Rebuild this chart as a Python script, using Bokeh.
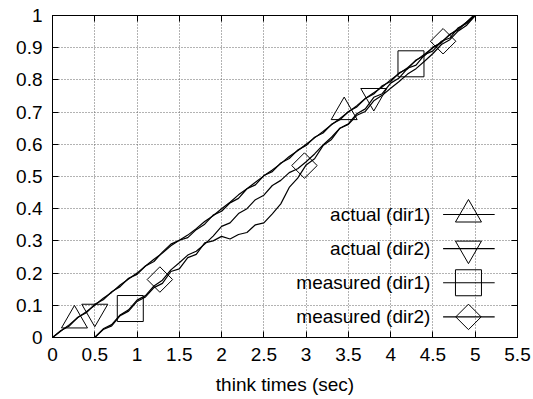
import math
from bokeh.plotting import figure
from bokeh.models import FixedTicker, NumeralTickFormatter, LinearAxis, Label
from bokeh.embed import file_html
from bokeh.resources import INLINE

# ---- data ----
x_ticks = [0, 0.5, 1, 1.5, 2, 2.5, 3, 3.5, 4, 4.5, 5, 5.5]
y_ticks = [0, 0.1, 0.2, 0.3, 0.4, 0.5, 0.6, 0.7, 0.8, 0.9, 1.0]

series_names = ["actual (dir1)", "actual (dir2)", "measured (dir1)", "measured (dir2)"]
series_markers = ["triangle", "inverted_triangle", "square", "diamond"]

actual_dir1_x = [0, 0.1, 0.2, 0.3, 0.4, 0.5, 0.6, 0.7, 0.8, 0.9, 1.0, 1.1, 1.2, 1.3, 1.4,
                 1.5, 1.6, 1.7, 1.8, 1.9, 2.0, 2.1, 2.2, 2.3, 2.4, 2.5, 2.6, 2.7, 2.8, 2.9,
                 3.0, 3.1, 3.2, 3.3, 3.4, 3.5, 3.6, 3.7, 3.8, 3.9, 4.0, 4.1, 4.2, 4.3, 4.4,
                 4.5, 4.6, 4.7, 4.8, 4.9, 5.0]
actual_dir1_y = [0, 0.02, 0.04, 0.062, 0.08, 0.1, 0.122, 0.14, 0.163, 0.182, 0.2, 0.222,
                 0.243, 0.262, 0.285, 0.302, 0.318, 0.338, 0.36, 0.378, 0.4, 0.42, 0.443,
                 0.462, 0.482, 0.502, 0.52, 0.54, 0.562, 0.58, 0.6, 0.62, 0.64, 0.661, 0.68,
                 0.7, 0.72, 0.742, 0.76, 0.778, 0.8, 0.82, 0.838, 0.86, 0.88, 0.9, 0.918,
                 0.94, 0.96, 0.98, 1.0]

actual_dir2_x = [0, 0.1, 0.2, 0.3, 0.4, 0.5, 0.6, 0.7, 0.8, 0.9, 1.0, 1.1, 1.2, 1.3, 1.4,
                 1.5, 1.6, 1.7, 1.8, 1.9, 2.0, 2.1, 2.2, 2.3, 2.4, 2.5, 2.6, 2.7, 2.8, 2.9,
                 3.0, 3.1, 3.2, 3.3, 3.4, 3.5, 3.6, 3.7, 3.8, 3.9, 4.0, 4.1, 4.2, 4.3, 4.4,
                 4.5, 4.6, 4.7, 4.8, 4.9, 4.98]
actual_dir2_y = [0, 0.022, 0.036, 0.063, 0.077, 0.103, 0.117, 0.142, 0.158, 0.184, 0.196,
                 0.222, 0.236, 0.265, 0.29, 0.302, 0.31, 0.335, 0.352, 0.38, 0.392, 0.418,
                 0.432, 0.462, 0.474, 0.503, 0.515, 0.542, 0.556, 0.582, 0.596, 0.622,
                 0.635, 0.662, 0.676, 0.702, 0.716, 0.742, 0.756, 0.782, 0.795, 0.822,
                 0.834, 0.862, 0.875, 0.902, 0.915, 0.942, 0.955, 0.98, 1.0]

measured_dir1_x = [0.5, 0.6, 0.7, 0.8, 0.9, 1.0, 1.1, 1.2, 1.3, 1.4, 1.5, 1.6, 1.7, 1.8,
                   1.9, 2.0, 2.1, 2.2, 2.3, 2.4, 2.5, 2.6, 2.7, 2.8, 2.9, 3.0, 3.1, 3.2,
                   3.3, 3.4, 3.5, 3.6, 3.7, 3.8, 3.9, 4.0, 4.1, 4.2, 4.3, 4.4, 4.5, 4.6,
                   4.7, 4.8, 4.9, 5.0]
measured_dir1_y = [0, 0.025, 0.036, 0.068, 0.082, 0.112, 0.126, 0.155, 0.168, 0.205, 0.213,
                   0.248, 0.258, 0.294, 0.3, 0.314, 0.306, 0.32, 0.326, 0.35, 0.356, 0.384,
                   0.415, 0.466, 0.495, 0.536, 0.555, 0.596, 0.615, 0.65, 0.664, 0.695,
                   0.71, 0.746, 0.757, 0.79, 0.806, 0.836, 0.846, 0.878, 0.89, 0.92, 0.93,
                   0.962, 0.975, 1.0]

measured_dir2_x = [0.5, 0.6, 0.7, 0.8, 0.9, 1.0, 1.1, 1.2, 1.3, 1.4, 1.5, 1.6, 1.7, 1.8,
                   1.9, 2.0, 2.1, 2.2, 2.3, 2.4, 2.5, 2.6, 2.7, 2.8, 2.9, 3.0, 3.1, 3.2,
                   3.3, 3.4, 3.5, 3.6, 3.7, 3.8, 3.9, 4.0, 4.1, 4.2, 4.3, 4.4, 4.5, 4.6,
                   4.7, 4.8, 4.9, 5.0]
measured_dir2_y = [0, 0.027, 0.04, 0.07, 0.086, 0.116, 0.13, 0.16, 0.178, 0.21, 0.232,
                   0.256, 0.268, 0.29, 0.315, 0.345, 0.356, 0.385, 0.4, 0.428, 0.442, 0.472,
                   0.488, 0.512, 0.524, 0.546, 0.57, 0.598, 0.622, 0.65, 0.662, 0.69, 0.702,
                   0.735, 0.752, 0.774, 0.795, 0.818, 0.835, 0.858, 0.882, 0.91, 0.925,
                   0.952, 0.97, 1.0]

# marker points drawn on the curves
actual_dir1_mx = [0.26, 3.45]
actual_dir1_my = [0.053, 0.70]
actual_dir2_mx = [0.5, 3.8]
actual_dir2_my = [0.08, 0.75]
measured_dir1_mx = [0.92, 4.24]
measured_dir1_my = [0.09, 0.85]
measured_dir2_mx = [1.27, 2.98, 4.62]
measured_dir2_my = [0.18, 0.534, 0.92]

curves = [
    (actual_dir1_x, actual_dir1_y, actual_dir1_mx, actual_dir1_my),
    (actual_dir2_x, actual_dir2_y, actual_dir2_mx, actual_dir2_my),
    (measured_dir1_x, measured_dir1_y, measured_dir1_mx, measured_dir1_my),
    (measured_dir2_x, measured_dir2_y, measured_dir2_mx, measured_dir2_my),
]

# ---- styles / layout ----
FONT = "Liberation Sans"
FS = "19px"
MARKER_SIZE = {"triangle": 26, "inverted_triangle": 26, "square": 26, "diamond": 18}
MARKER_ANGLE = {"triangle": 0, "inverted_triangle": 0, "square": 0, "diamond": math.pi / 4}
MARKER_SHAPE = {"triangle": "triangle", "inverted_triangle": "inverted_triangle",
                "square": "square", "diamond": "square"}

# key (legend) layout in data units
KEY_TEXT_RIGHT = 4.47
KEY_LINE_X0, KEY_LINE_X1 = 4.62, 5.23
KEY_MARK_X = 4.92
KEY_TOP_Y = 0.382
KEY_STEP_Y = 0.106

p = figure(width=533, height=399, x_range=(0, 5.5), y_range=(0, 1),
           output_backend="svg", toolbar_location=None,
           min_border_left=52, min_border_right=16, min_border_top=15, min_border_bottom=62)
p.background_fill_color = "white"
p.border_fill_color = "white"
p.outline_line_color = "black"
p.outline_line_width = 1
p.outline_line_alpha = 1

xt = FixedTicker(ticks=x_ticks)
yt = FixedTicker(ticks=y_ticks)

for ax in (p.xaxis[0], p.yaxis[0]):
    ax.major_label_text_font = FONT
    ax.major_label_text_font_size = FS
    ax.major_label_text_color = "black"
    ax.axis_line_color = "black"
    ax.major_tick_line_color = "black"
    ax.major_tick_in = 6
    ax.major_tick_out = 0
    ax.minor_tick_line_color = None
    ax.formatter = NumeralTickFormatter(format="0.[0]")

p.xaxis[0].ticker = xt
p.yaxis[0].ticker = yt
p.xaxis[0].major_label_standoff = 10
p.yaxis[0].major_label_standoff = 10
p.xaxis[0].axis_label = "think times (sec)"
p.xaxis[0].axis_label_text_font = FONT
p.xaxis[0].axis_label_text_font_size = FS
p.xaxis[0].axis_label_text_font_style = "normal"
p.xaxis[0].axis_label_text_color = "black"
p.xaxis[0].axis_label_standoff = 10

for side, tk in (("right", yt), ("above", xt)):
    ax = LinearAxis(ticker=tk, axis_line_color="black", major_tick_line_color="black",
                    major_tick_in=6, major_tick_out=0, minor_tick_line_color=None,
                    major_label_text_font_size="0px", major_label_text_color=None,
                    major_label_standoff=0)
    p.add_layout(ax, side)

for g in (p.xgrid[0], p.ygrid[0]):
    g.grid_line_color = "#666666"
    g.grid_line_dash = "1 2"
    g.grid_line_width = 1
p.xgrid[0].ticker = xt
p.ygrid[0].ticker = yt

for (cx, cy, mx, my), mk in zip(curves, series_markers):
    p.line(cx, cy, line_color="black", line_width=1.2)
    p.scatter(mx, my, marker=MARKER_SHAPE[mk], size=MARKER_SIZE[mk], angle=MARKER_ANGLE[mk],
              fill_color=None, line_color="black", line_width=1)

for i, (name, mk) in enumerate(zip(series_names, series_markers)):
    ky = KEY_TOP_Y - i * KEY_STEP_Y
    p.line([KEY_LINE_X0, KEY_LINE_X1], [ky, ky], line_color="black", line_width=1.2)
    p.scatter([KEY_MARK_X], [ky], marker=MARKER_SHAPE[mk], size=MARKER_SIZE[mk],
              angle=MARKER_ANGLE[mk], fill_color=None, line_color="black", line_width=1)
    p.add_layout(Label(x=KEY_TEXT_RIGHT, y=ky, text=name, text_align="right",
                       text_baseline="middle", text_font=FONT, text_font_size=FS,
                       text_color="black"))

open("out.html", "w").write(file_html(p, INLINE))
